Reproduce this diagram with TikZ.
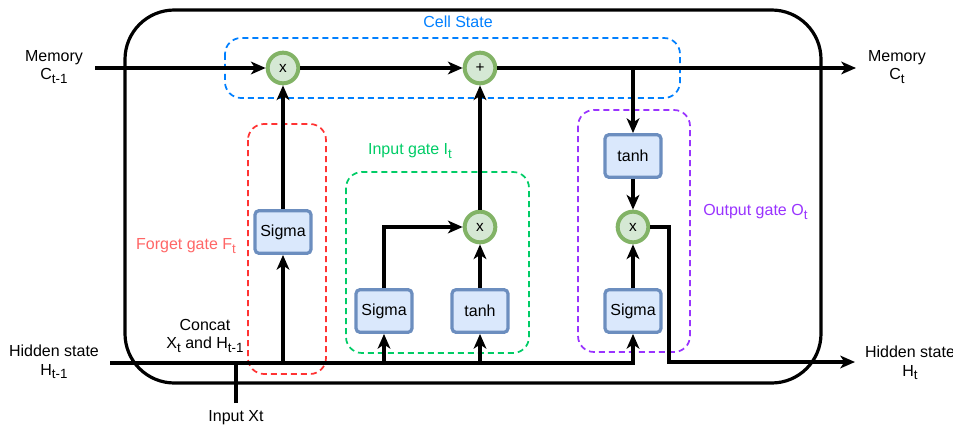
\documentclass[tikz,border=0pt]{standalone}
\usepackage{fontspec}
\setmainfont{Liberation Sans}
\usetikzlibrary{arrows.meta}
\definecolor{boxfill}{HTML}{DAE8FC}
\definecolor{boxline}{HTML}{6C8EBF}
\definecolor{opfill}{HTML}{D5E8D4}
\definecolor{opline}{HTML}{82B366}
\definecolor{cellblue}{RGB}{0,127,255}
\definecolor{forgetred}{RGB}{255,51,51}
\definecolor{forgettext}{RGB}{255,102,102}
\definecolor{inputgreen}{RGB}{0,204,102}
\definecolor{outpurple}{RGB}{153,51,255}
\newcommand{\mysub}[1]{\raisebox{-0.45ex}{\fontsize{10}{12}\selectfont #1}}
\tikzset{
  every node/.style={font=\fontsize{12}{14}\selectfont, align=center, inner sep=0pt},
  gatebox/.style={draw=boxline, fill=boxfill, line width=2.4pt, rounded corners=3pt,
    minimum width=42pt, minimum height=32pt},
  opnode/.style={circle, draw=opline, fill=opfill, line width=3pt, minimum size=23pt,
    font=\fontsize{11.5}{13}\selectfont},
  wire/.style={line width=2.3pt, draw=black},
  arr/.style={wire, -{Stealth[length=11pt,width=9.5pt,inset=3pt]}},
  region/.style={dashed, line width=1.3pt, dash pattern=on 4.5pt off 3pt, rounded corners=12pt},
}
\begin{document}
\begin{tikzpicture}[x=0.75pt,y=-0.75pt]
\useasboundingbox (0,0) rectangle (953,428);
% outer cell
\draw[line width=2.4pt, rounded corners=37pt] (125,10) rectangle (821,383);
% dashed regions
\draw[region, draw=cellblue] (225,38) rectangle (680,98);
\draw[region, draw=forgetred] (248,124) rectangle (326,374);
\draw[region, draw=inputgreen] (346,172) rectangle (529,353);
\draw[region, draw=outpurple] (578,110) rectangle (690,352);
% region labels
\node[text=cellblue] (lcell) at (458,22) {Cell State};
\node[text=forgettext] (lforget) at (186,246) {Forget gate F\mysub{t}};
\node[text=inputgreen] (linput) at (410,151) {Input gate I\mysub{t}};
\node[text=outpurple, anchor=west] (loutput) at (703,212) {Output gate O\mysub{t}};
% operators
\node[opnode] (c1) at (283,68) {x};
\node[opnode] (c2) at (480,68) {+};
\node[opnode] (c3) at (480,227) {x};
\node[opnode] (c4) at (633,227) {x};
% gate boxes
\node[gatebox] (sig1) at (283,232) {Sigma};
\node[gatebox] (sig2) at (384,311) {Sigma};
\node[gatebox] (tanh1) at (480,311) {tanh};
\node[gatebox] (tanh2) at (633,156) {tanh};
\node[gatebox] (sig3) at (633,311) {Sigma};
% coordinates
\coordinate (memin) at (95,68);
\coordinate (memout) at (856,68);
\coordinate (jmem) at (633,68);
\coordinate (hin) at (110,363);
\coordinate (hend) at (633,363);
\coordinate (jf) at (283,363);
\coordinate (ji) at (384,363);
\coordinate (jt) at (480,363);
\coordinate (xin) at (236,403);
\coordinate (jx) at (236,363);
\coordinate (oc) at (669,227);
\coordinate (od) at (669,362);
\coordinate (hout) at (855,362);
% text labels
\node (lmemin) at (54,67) {Memory\\C\mysub{t-1}};
\node (lmemout) at (897,67) {Memory\\C\mysub{t}};
\node (lhin) at (54,362) {Hidden state\\H\mysub{t-1}};
\node (lhout) at (910,363) {Hidden state\\H\mysub{t}};
\node (lconcat) at (205,336) {Concat\\X\mysub{t} and H\mysub{t-1}};
\node (lxin) at (236,418) {Input Xt};
% connectors
\draw[arr] (memin) -- (c1);
\draw[arr] (c1) -- (c2);
\draw[wire] (c2.east) -- (jmem);
\draw[arr] (jmem) -- (memout);
\draw[arr] (jmem) -- (tanh2.north);
\draw[arr] (tanh2.south) -- (c4.north);
\draw[arr] (sig3.north) -- (c4.south);
\draw[arr] (hin) -- (hend) -- (sig3.south);
\draw[wire] (xin) -- (jx);
\draw[arr] (jf) -- (sig1.south);
\draw[arr] (sig1.north) -- (c1.south);
\draw[arr] (ji) -- (sig2.south);
\draw[arr] (jt) -- (tanh1.south);
\draw[arr] (sig2.north) |- (c3.west);
\draw[arr] (tanh1.north) -- (c3.south);
\draw[arr] (c3.north) -- (c2.south);
\draw[arr] (c4.east) -- (oc) -- (od) -- (hout);
\end{tikzpicture}
\end{document}
